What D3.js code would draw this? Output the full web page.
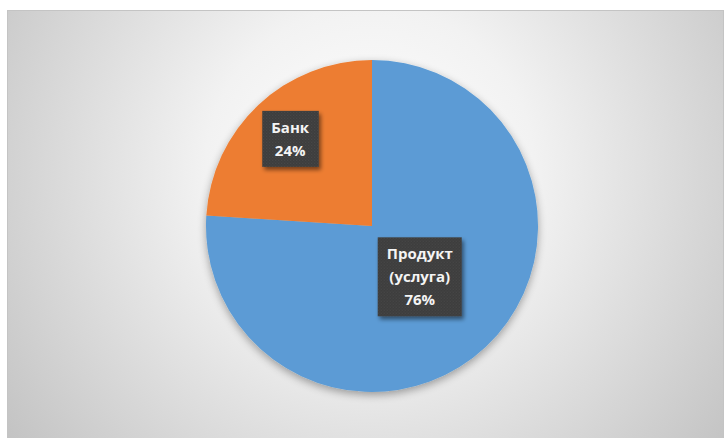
<!DOCTYPE html>
<html>
<head>
<meta charset="utf-8">
<script src="https://cdn.jsdelivr.net/npm/d3@7"></script>
<style>
  html, body { margin: 0; padding: 0; background: #ffffff; }
  svg { display: block; }
</style>
</head>
<body>
<svg id="chart" width="725" height="438"></svg>
<script>
// Shares of the pie, in drawing order (clockwise from 12 o'clock)
const categories = ["Продукт (услуга)", "Банк"];
const values = [76, 24];
const labelLines = [["Продукт", "(услуга)", "76%"], ["Банк", "24%"]];
const colors = ["#5b9bd5", "#ed7d31"];

const W = 725, H = 438;
const svg = d3.select("#chart");
const defs = svg.append("defs");

// Chart area background: soft radial gradient, light centre to grey edges
const bg = defs.append("radialGradient")
  .attr("id", "bgGrad")
  .attr("gradientUnits", "userSpaceOnUse")
  .attr("cx", 370).attr("cy", 170).attr("r", 470);
bg.append("stop").attr("offset", "0").attr("stop-color", "#ffffff");
bg.append("stop").attr("offset", "0.35").attr("stop-color", "#f2f2f2");
bg.append("stop").attr("offset", "1").attr("stop-color", "#c0c0c0");

// Drop shadow under the pie
const pieShadow = defs.append("filter").attr("id", "pieShadow")
  .attr("x", "-20%").attr("y", "-20%").attr("width", "140%").attr("height", "140%");
pieShadow.append("feGaussianBlur").attr("in", "SourceAlpha").attr("stdDeviation", 4).attr("result", "b");
pieShadow.append("feOffset").attr("in", "b").attr("dx", 0).attr("dy", 3).attr("result", "o");
pieShadow.append("feComponentTransfer").attr("in", "o").attr("result", "s")
  .append("feFuncA").attr("type", "linear").attr("slope", 0.35);
const pm = pieShadow.append("feMerge");
pm.append("feMergeNode").attr("in", "s");
pm.append("feMergeNode").attr("in", "SourceGraphic");

// Drop shadow under label boxes
const boxShadow = defs.append("filter").attr("id", "boxShadow")
  .attr("x", "-30%").attr("y", "-30%").attr("width", "160%").attr("height", "160%");
boxShadow.append("feGaussianBlur").attr("in", "SourceAlpha").attr("stdDeviation", 2).attr("result", "b");
boxShadow.append("feOffset").attr("in", "b").attr("dx", 2).attr("dy", 3).attr("result", "o");
boxShadow.append("feComponentTransfer").attr("in", "o").attr("result", "s")
  .append("feFuncA").attr("type", "linear").attr("slope", 0.5);
const bm = boxShadow.append("feMerge");
bm.append("feMergeNode").attr("in", "s");
bm.append("feMergeNode").attr("in", "SourceGraphic");

// Fine dotted texture for the label boxes
const pat = defs.append("pattern").attr("id", "boxTex")
  .attr("patternUnits", "userSpaceOnUse").attr("width", 3).attr("height", 3);
pat.append("rect").attr("width", 3).attr("height", 3).attr("fill", "#3d3d3d");
pat.append("rect").attr("x", 0).attr("y", 0).attr("width", 1).attr("height", 1).attr("fill", "#4a4a4a");
pat.append("rect").attr("x", 1.5).attr("y", 1.5).attr("width", 1).attr("height", 1).attr("fill", "#474747");

// Chart area with frame
svg.append("rect")
  .attr("x", 7.5).attr("y", 10.5).attr("width", 716).attr("height", 440)
  .attr("fill", "url(#bgGrad)")
  .attr("stroke", "#c4c4c4").attr("stroke-width", 1);

// Pie
const cx = 372, cy = 226, R = 166;
const pie = d3.pie().sort(null).value(d => d)(values);
const arc = d3.arc().innerRadius(0).outerRadius(R);

const g = svg.append("g").attr("transform", `translate(${cx},${cy})`);
g.append("g").attr("filter", "url(#pieShadow)")
  .selectAll("path").data(pie).join("path")
  .attr("d", arc)
  .attr("fill", (d, i) => colors[i]);

// Data labels: dark boxes with white bold text
const labelRadius = [0.42 * R, 0.72 * R];
const lineH = 23;
const fontSize = 15;
pie.forEach((d, i) => {
  const c = d3.arc().innerRadius(labelRadius[i]).outerRadius(labelRadius[i]).centroid(d);
  const lines = labelLines[i];
  const lg = g.append("g").attr("transform", `translate(${c[0]},${c[1]})`);
  const t = lg.append("text")
    .attr("text-anchor", "middle")
    .attr("fill", "#f4f4f4")
    .attr("font-family", "'Open Sans', 'Noto Sans', sans-serif")
    .attr("font-weight", "bold")
    .attr("font-size", fontSize);
  const top = -(lines.length - 1) * lineH / 2;
  lines.forEach((s, k) => {
    t.append("tspan").attr("x", 0).attr("y", top + k * lineH).attr("dy", "0.35em").text(s);
  });
  const bb = t.node().getBBox();
  const padX = 9, padY = 5;
  lg.insert("rect", "text")
    .attr("x", bb.x - padX).attr("y", top - lineH / 2 - padY)
    .attr("width", bb.width + 2 * padX)
    .attr("height", lines.length * lineH + 2 * padY)
    .attr("fill", "url(#boxTex)")
    .attr("filter", "url(#boxShadow)");
});
</script>
</body>
</html>
